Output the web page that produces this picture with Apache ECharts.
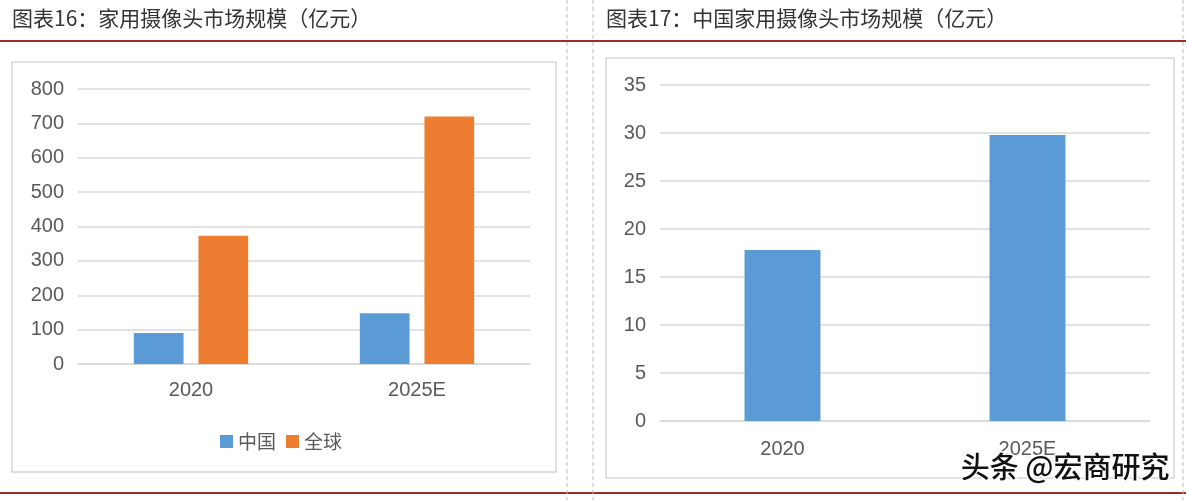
<!DOCTYPE html>
<html>
<head>
<meta charset="utf-8">
<script src="https://cdn.jsdelivr.net/npm/echarts@6/dist/echarts.min.js"></script>
<style>
html,body{margin:0;padding:0;background:#fff;}
#c{width:1186px;height:500px;}
</style>
</head>
<body>
<div id="c"></div>
<script>
// ---- data ----
const categories = ['2020', '2025E'];
const chinaValues = [90, 148];          // 中国 (left chart)
const globalValues = [373, 720];        // 全球 (left chart)
const chinaRightValues = [17.8, 29.8];  // right chart
const leftTitle = '图表16：家用摄像头市场规模（亿元）';
const rightTitle = '图表17：中国家用摄像头市场规模（亿元）';
const seriesNames = ['中国', '全球'];
const watermark = '头条 @宏商研究';

const BLUE = '#5b9bd5', ORANGE = '#ed7d31';
const LABEL = '#595959', GRID = '#d9d9d9', RED = '#9e2b2b';
const NUMFONT = '"Liberation Sans", Arial, sans-serif';
const CJK = '"Noto Sans CJK SC", sans-serif';

const chart = echarts.init(document.getElementById('c'));
const axisY = (gi, max, interval) => ({
  type: 'value', gridIndex: gi, min: 0, max: max, interval: interval,
  axisLine: {show: false}, axisTick: {show: false},
  splitLine: {lineStyle: {color: GRID, width: 1.5}},
  axisLabel: {color: LABEL, fontSize: 20, fontFamily: NUMFONT, margin: 14}
});
const axisX = (gi, margin) => ({
  type: 'category', gridIndex: gi, data: categories,
  axisLine: {lineStyle: {color: GRID, width: 1.5}}, axisTick: {show: false},
  axisLabel: {color: LABEL, fontSize: 20, fontFamily: NUMFONT, margin: margin}
});

chart.setOption({
  animation: false,
  backgroundColor: '#fff',
  grid: [
    {left: 78, top: 89, width: 452, height: 275},
    {left: 660, top: 85, width: 490, height: 336}
  ],
  xAxis: [axisX(0, 16), axisX(1, 18)],
  yAxis: [axisY(0, 800, 100), axisY(1, 35, 5)],
  legend: {
    data: seriesNames, left: 215, top: 427, itemWidth: 13, itemHeight: 13,
    itemGap: 10, icon: 'rect',
    textStyle: {color: LABEL, fontSize: 19, fontFamily: CJK}
  },
  series: [
    {name: seriesNames[0], type: 'bar', xAxisIndex: 0, yAxisIndex: 0, data: chinaValues,
     itemStyle: {color: BLUE}, barWidth: '22%', barGap: '30%'},
    {name: seriesNames[1], type: 'bar', xAxisIndex: 0, yAxisIndex: 0, data: globalValues,
     itemStyle: {color: ORANGE}, barWidth: '22%', barGap: '30%'},
    {name: 'right', type: 'bar', xAxisIndex: 1, yAxisIndex: 1, data: chinaRightValues,
     itemStyle: {color: BLUE}, barWidth: '31%'}
  ],
  graphic: [
    {type: 'text', left: 12, top: 8, style: {text: leftTitle, fill: '#333', font: '21px ' + CJK}},
    {type: 'text', left: 606, top: 8, style: {text: rightTitle, fill: '#333', font: '21px ' + CJK}},
    {type: 'line', shape: {x1: 0, y1: 41, x2: 1186, y2: 41}, style: {stroke: RED, lineWidth: 2}},
    {type: 'line', shape: {x1: 0, y1: 493, x2: 1186, y2: 493}, style: {stroke: RED, lineWidth: 2}},
    {type: 'line', shape: {x1: 567, y1: 0, x2: 567, y2: 500}, style: {stroke: '#bbb', lineWidth: 1, lineDash: [4, 3]}},
    {type: 'line', shape: {x1: 593, y1: 0, x2: 593, y2: 500}, style: {stroke: '#bbb', lineWidth: 1, lineDash: [4, 3]}},
    {type: 'line', shape: {x1: 1183, y1: 0, x2: 1183, y2: 500}, style: {stroke: '#bbb', lineWidth: 1, lineDash: [4, 3]}},
    {type: 'rect', shape: {x: 12, y: 62, width: 544, height: 410}, style: {fill: 'none', stroke: '#d6d6d6', lineWidth: 1.5}},
    {type: 'rect', shape: {x: 606, y: 58, width: 568, height: 420}, style: {fill: 'none', stroke: '#d6d6d6', lineWidth: 1.5}},
    {type: 'text', right: 15, top: 451, z: 100,
     style: {text: watermark, fill: '#111', stroke: '#fff', lineWidth: 3, font: '500 29px ' + CJK}}
  ]
});
</script>
</body>
</html>
